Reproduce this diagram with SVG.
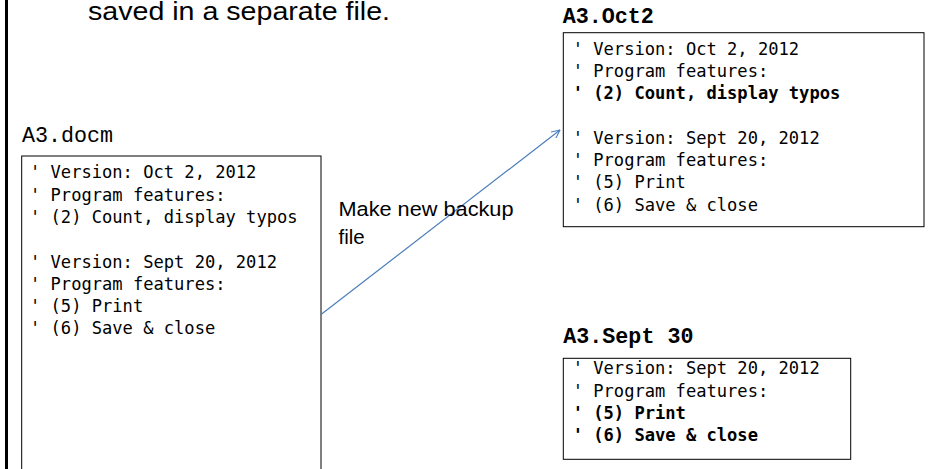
<svg xmlns="http://www.w3.org/2000/svg" width="952" height="469" viewBox="0 0 952 469">
<style>
.sans{font-family:"Liberation Sans",Arial,sans-serif;fill:#000}
.mono{font-family:"Liberation Mono","Courier New",monospace;fill:#000}
.codef{font-family:"DejaVu Sans Mono","Liberation Mono",monospace;fill:#000}
.lbl{font-size:21.7px}
.code{font-size:17.1px;white-space:pre}
.b{font-weight:bold}
.box{fill:#fff;stroke:#000;stroke-width:1}
.conn{stroke:#4a7ebb;stroke-width:1.2;fill:none}
</style>
<defs>
<marker id="open" viewBox="0 0 10 10" refX="9.5" refY="5" markerWidth="9" markerHeight="9" markerUnits="userSpaceOnUse" orient="auto">
<path d="M0,0.5 L9.5,5 L0,9.5" fill="none" stroke="#4a7ebb" stroke-width="1.2"/>
</marker>
</defs>
<rect width="952" height="469" fill="#fff"/>
<rect x="5" y="0" width="3" height="469" fill="#000"/>
<text class="sans" x="88" y="20" font-size="26" textLength="302" lengthAdjust="spacingAndGlyphs">saved in a separate file.</text>

<g id="a3docm">
<text class="mono lbl" x="22" y="142">A3.docm</text>
<rect class="box" x="21.7" y="156" width="299.3" height="320"/>
<text class="codef code" x="30" y="178.3">' Version: Oct 2, 2012</text>
<text class="codef code" x="30" y="200.6">' Program features:</text>
<text class="codef code" x="30" y="222.9">' (2) Count, display typos</text>
<text class="codef code" x="30" y="267.5">' Version: Sept 20, 2012</text>
<text class="codef code" x="30" y="289.8">' Program features:</text>
<text class="codef code" x="30" y="312.1">' (5) Print</text>
<text class="codef code" x="30" y="334.4">' (6) Save &amp; close</text>
</g>

<g id="a3oct2">
<text class="mono lbl b" x="562.7" y="23">A3.Oct2</text>
<rect class="box" x="563.3" y="32.7" width="360.7" height="194"/>
<text class="codef code" x="572.7" y="54.5">' Version: Oct 2, 2012</text>
<text class="codef code" x="572.7" y="76.8">' Program features:</text>
<text class="codef code b" x="572.7" y="99.1">' (2) Count, display typos</text>
<text class="codef code" x="572.7" y="143.7">' Version: Sept 20, 2012</text>
<text class="codef code" x="572.7" y="166">' Program features:</text>
<text class="codef code" x="572.7" y="188.3">' (5) Print</text>
<text class="codef code" x="572.7" y="210.6">' (6) Save &amp; close</text>
</g>

<g id="a3sept30">
<text class="mono lbl b" x="563.3" y="342.7">A3.Sept 30</text>
<rect class="box" x="563.3" y="358.3" width="287.4" height="101"/>
<text class="codef code" x="572.7" y="374.3">' Version: Sept 20, 2012</text>
<text class="codef code" x="572.7" y="396.6">' Program features:</text>
<text class="codef code b" x="572.7" y="418.9">' (5) Print</text>
<text class="codef code b" x="572.7" y="441.2">' (6) Save &amp; close</text>
</g>

<g id="connectors">
<line class="conn" x1="321" y1="314.5" x2="560" y2="130" marker-end="url(#open)"/>
<text class="sans" x="338.5" y="216" font-size="20.5" textLength="175" lengthAdjust="spacingAndGlyphs">Make new backup</text>
<text class="sans" x="338.5" y="244" font-size="20.5">file</text>
</g>
</svg>
